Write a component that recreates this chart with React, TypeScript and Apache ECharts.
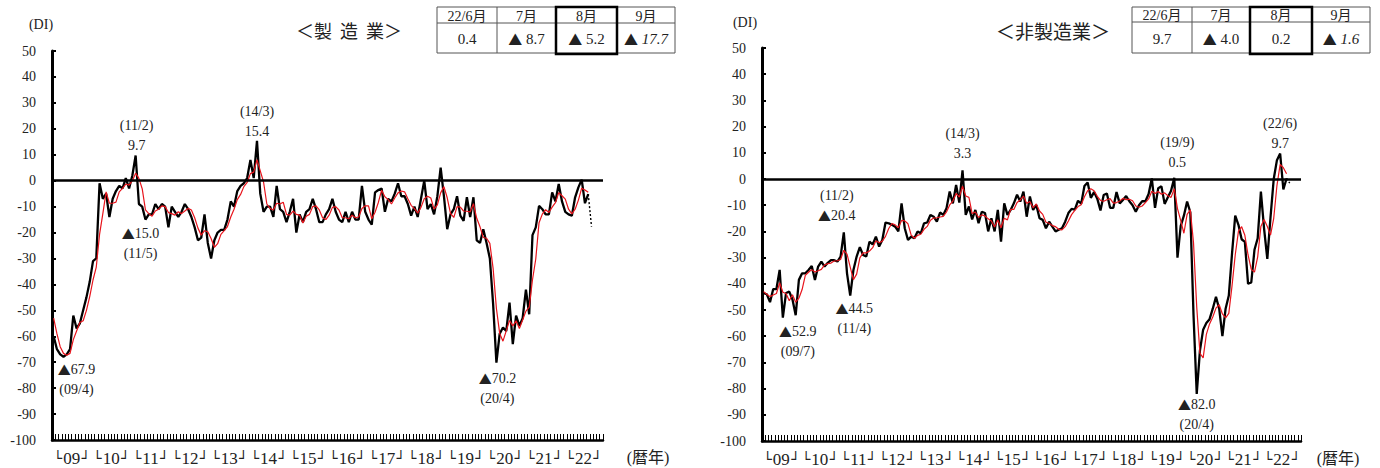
import React, { useEffect, useRef } from 'react';
import * as echarts from 'echarts';

// ---------- data ----------
const YEARS = ['09', '10', '11', '12', '13', '14', '15', '16', '17', '18', '19', '20', '21', '22'];
const CATEGORIES: string[] = YEARS.flatMap((y) => Array.from({ length: 12 }, (_, m) => `${y}/${m + 1}`));

// 製造業 DI (monthly, 2009/1 - 2022/8)
const MFG_DI = [
  -60, -65, -67, -67.9, -67, -65, -52, -57, -55, -50, -45, -39,
  -31, -30, -1, -7, -5, -14, -7, -4, -2, -3, 1, -3,
  2, 9.7, -9, -10, -15, -13, -13, -9, -11, -9, -10, -18,
  -10, -12, -14, -12, -9, -11, -14, -18, -23, -22, -13, -24,
  -30, -23, -20, -19, -19, -15, -8, -10, -4, -2, -1, 1,
  8, 1, 15.4, -5, -12, -10, -10, -14, -2, -11, -12, -16,
  -12, -7, -20, -13, -16, -12, -11, -7, -11, -16, -16, -13,
  -11, -7, -12, -15, -16, -12, -16, -12, -15, -15, -2, -12,
  -15, -17, -4.5, -3.6, -3, -12, -7, -8, -5, -1, -6, -6,
  -9, -13.5, -10, -14, -7, 0, -11, -9, -13, -6, 5, -6,
  -18.7, -13, -11, -6, -13.5, -15.5, -6.4, -14, -6.4, -23, -24, -18.7,
  -24, -30, -47.6, -70.2, -59, -56.6, -58, -47, -63, -52, -56, -53,
  -42, -51.5, -21, -18, -9.7, -11, -13, -13, -4.5, -8, -1.3, -8,
  -12, -13, -13.5, -6.4, -2.6, 0.4, -8.7, -5.2,
];
const MFG_FORECAST = -17.7; // 22/9
// 製造業 moving average (red)
const MFG_MA = [
  -53, -59, -64, -66.6, -67.3, -66.6, -61.3, -58, -54.7, -54, -50, -44.7,
  -38.3, -33.3, -20.7, -12.7, -4.3, -8.7, -8.7, -8.3, -4.3, -3, -1.3, -1.7,
  0, 2.9, 0.9, -3.1, -11.3, -12.7, -13.7, -11.7, -11, -9.7, -10, -12.3,
  -12.7, -13.3, -12, -12.7, -11.7, -10.7, -11.3, -14.3, -18.3, -21, -19.3, -19.7,
  -22.3, -25.7, -24.3, -20.7, -19.3, -17.7, -14, -11, -7.3, -5.3, -2.3, -0.7,
  2.7, 3.3, 8.1, 3.8, -0.5, -9, -10.7, -11.3, -8.7, -9, -8.3, -13,
  -13.3, -11.7, -13, -13.3, -16.3, -13.7, -13, -10, -9.7, -11.3, -14.3, -15,
  -13.3, -10.3, -10, -11.3, -14.3, -14.3, -14.7, -13.3, -14.3, -14, -10.7, -9.7,
  -9.7, -14.7, -12.2, -8.4, -3.7, -6.2, -7.3, -9, -6.7, -4.7, -4, -4.3,
  -7, -9.5, -10.8, -12.5, -10.3, -7, -6, -6.7, -11, -9.3, -4.7, -2.3,
  -6.6, -12.6, -14.2, -10, -10.2, -11.7, -11.8, -12, -8.9, -14.5, -17.8, -21.9,
  -22.2, -24.2, -33.9, -49.3, -58.9, -61.9, -57.9, -53.9, -56, -54, -57, -53.7,
  -50.3, -48.8, -38.2, -30.2, -16.2, -12.9, -11.2, -12.3, -10.2, -8.5, -4.6, -5.8,
  -7.1, -11, -12.8, -11, -7.5, -2.9, -3.6, -4.5,
];

// 非製造業 DI (monthly, 2009/1 - 2022/8)
const NONMFG_DI = [
  -43.6, -44, -47, -42, -42, -34.7, -52.9, -43.5, -43, -46, -52, -38.5,
  -36, -36, -34.7, -33.2, -38.5, -33.4, -31.5, -33.4, -32, -31, -31, -31.5,
  -29.6, -20.4, -36, -44.5, -34.7, -29.6, -26, -29, -29.6, -23.9, -25, -22,
  -25.8, -23.3, -16.6, -16.9, -17.5, -18.2, -20, -9.3, -18.8, -23.3, -22, -22.6,
  -20, -20.7, -16.9, -16.6, -13.7, -14.4, -16.3, -12.8, -13.7, -11.2, -4.8, -9.3,
  -2.3, -9, 3.3, -13.7, -10.5, -15.4, -11.8, -16.9, -12.5, -13, -20, -15,
  -20, -11.8, -23.9, -9.3, -13.7, -11.8, -9.3, -6, -8.6, -4.8, -14.4, -6.7,
  -11.8, -9.9, -15, -15.6, -18.8, -16.3, -18.2, -20, -19.4, -18.8, -16.3, -13,
  -11.4, -11.7, -8.3, -9.4, -2.7, -1.3, -7.2, -5, -7.5, -12, -6.1, -5.5,
  -11, -11, -5, -9.3, -8, -6.5, -8.5, -10, -12.5, -10, -8.5, -8.5,
  -5.7, 0.2, -11, -3.5, -2.8, -9.5, -7, -4.5, 0.5, -30, -18, -14,
  -8.6, -12.7, -52, -82, -65.5, -57.5, -55, -53.5, -49.5, -45, -49.5, -60,
  -49.5, -44.5, -28.5, -14, -17.5, -23, -24, -40, -39.5, -27, -22.6, -4.8,
  -19, -30.5, -14.6, 0, 7.2, 9.7, -4.0, 0.2,
];
const NONMFG_FORECAST = -1.6; // 22/9
const NONMFG_MA = [
  -43, -44, -44.9, -44.3, -43.7, -39.6, -43.2, -43.7, -46.5, -44.2, -47, -45.5,
  -42.2, -36.8, -35.6, -34.6, -35.5, -35, -34.5, -32.8, -32.3, -32.1, -31.3, -31.2,
  -30.7, -27.2, -28.7, -33.6, -38.4, -36.3, -30.1, -28.2, -28.2, -27.5, -26.2, -23.6,
  -24.3, -23.7, -21.9, -18.9, -17, -17.5, -18.6, -15.8, -16, -17.1, -21.4, -22.6,
  -21.5, -21.1, -19.2, -18.1, -15.7, -14.9, -14.8, -14.5, -14.3, -12.6, -9.9, -8.4,
  -5.5, -6.9, -2.7, -6.5, -7, -13.2, -12.6, -14.7, -13.7, -14.1, -15.2, -16,
  -18.3, -15.6, -18.6, -15, -15.6, -11.6, -11.6, -9, -8, -6.5, -9.3, -8.6,
  -11, -9.5, -12.2, -13.5, -16.5, -16.9, -17.8, -18.2, -19.2, -19.4, -18.2, -16,
  -13.6, -12, -10.5, -9.8, -6.8, -4.5, -3.7, -4.5, -6.6, -8.2, -8.5, -7.9,
  -7.5, -9.2, -9, -8.4, -7.4, -7.9, -7.7, -8.3, -10.3, -10.8, -10.3, -9,
  -7.6, -4.7, -5.5, -4.8, -5.8, -5.3, -6.4, -7, -3.7, -11.3, -15.8, -20.7,
  -13.5, -11.8, -24.4, -48.9, -66.5, -68.3, -59.3, -55.3, -52.7, -49.3, -48, -51.5,
  -53, -51.3, -40.8, -29, -20, -18.2, -21.5, -29, -34.5, -35.5, -29.7, -18.1,
  -15.5, -18.1, -21.4, -15, -2.5, 5.6, 4.3, 2,
];

// annotations: month index, text
const MFG_NOTES = [
  { i: 3, text: '▲67.9\n(09/4)', dx: 13, dy: 23 },
  { i: 25, text: '(11/2)\n9.7', dx: 1, dy: -20 },
  { i: 28, text: '▲15.0\n(11/5)', dx: -5, dy: 24 },
  { i: 62, text: '(14/3)\n15.4', dx: 0, dy: -19 },
  { i: 135, text: '▲70.2\n(20/4)', dx: 1, dy: 26 },
];
const NONMFG_NOTES = [
  { i: 6, text: '▲52.9\n(09/7)', dx: 15, dy: 24 },
  { i: 25, text: '(11/2)\n▲20.4', dx: -7, dy: -27 },
  { i: 27, text: '▲44.5\n(11/4)', dx: 4, dy: 23 },
  { i: 62, text: '(14/3)\n3.3', dx: 0, dy: -27 },
  { i: 128, text: '(19/9)\n0.5', dx: 3, dy: -25 },
  { i: 161, text: '(22/6)\n9.7', dx: 0, dy: -20 },
  { i: 135, text: '▲82.0\n(20/4)', dx: 0, dy: 21 },
];

const TABLE_HEAD = ['22/6月', '7月', '8月', '9月'];
const MFG_TABLE = ['0.4', '▲ 8.7', '▲ 5.2', '▲ 17.7'];
const NONMFG_TABLE = ['9.7', '▲ 4.0', '0.2', '▲ 1.6'];

// ---------- styling ----------
const SERIF = "'Liberation Serif', 'DejaVu Serif', 'Noto Sans CJK JP', serif";
const CJK = "'Noto Sans CJK JP', sans-serif";
const TXT = '#222';

const N = CATEGORIES.length;
const pad = (arr: number[]) => [...arr, ...Array(N - arr.length).fill(null)];
const forecast = (arr: number[], f: number) => {
  const out: (number | null)[] = Array(N).fill(null);
  out[arr.length - 1] = arr[arr.length - 1];
  out[arr.length] = f;
  return out;
};
const tri = (s: string) => s.replace(/▲/g, '{t|▲}');
const TRI_RICH = { t: { fontFamily: CJK, fontSize: 13, color: TXT, fill: TXT } };

function makeSeries(idx: number, di: number[], ma: number[], fc: number, notes: any[]) {
  return [
    {
      type: 'line',
      xAxisIndex: idx,
      yAxisIndex: idx,
      data: pad(di),
      symbol: 'none',
      lineStyle: { color: '#000', width: 2.3 },
      z: 3,
      markLine: {
        silent: true,
        symbol: 'none',
        label: { show: false },
        lineStyle: { color: '#000', width: 2.5, type: 'solid' },
        data: [{ yAxis: 0 }],
      },
      markPoint: {
        silent: true,
        symbol: 'circle',
        symbolSize: 0,
        itemStyle: { color: 'transparent' },
        label: {
          show: true,
          position: 'inside',
          color: TXT,
          fontFamily: SERIF,
          fontSize: 14,
          lineHeight: 20,
          align: 'center',
          rich: TRI_RICH,
        },
        data: notes.map((n) => ({
          coord: [CATEGORIES[n.i], di[n.i]],
          label: { formatter: tri(n.text), offset: [n.dx, n.dy] },
        })),
      },
    },
    {
      type: 'line',
      xAxisIndex: idx,
      yAxisIndex: idx,
      data: pad(ma),
      symbol: 'none',
      lineStyle: { color: '#e8141c', width: 1.2 },
      z: 4,
    },
    {
      type: 'line',
      xAxisIndex: idx,
      yAxisIndex: idx,
      data: forecast(di, fc),
      symbol: 'none',
      lineStyle: { color: '#000', width: 1.4, type: [2, 2] },
      z: 3,
    },
  ];
}

function xAxis(gridIndex: number) {
  return {
    type: 'category',
    gridIndex,
    data: CATEGORIES,
    boundaryGap: true,
    axisLine: { onZero: false, lineStyle: { color: '#000', width: 2.5 } },
    axisTick: { show: true, inside: true, length: 6, interval: 0, lineStyle: { color: '#000', width: 1 } },
    axisLabel: {
      interval: (index: number) => index % 12 === 6,
      formatter: (v: string) => `{b|└}{d|${v.split('/')[0]}}{b|┘}`,
      color: TXT,
      margin: 10,
      hideOverlap: false,
      padding: [0, 3, 0, 0],
      rich: {
        b: { fontFamily: "'DejaVu Sans Mono', 'DejaVu Sans', monospace", fontSize: 14, color: TXT, width: 9, align: 'center' },
        d: { fontFamily: SERIF, fontSize: 17, color: TXT, padding: [0, 1, 0, 1] },
      },
    },
    splitLine: { show: false },
  };
}

function yAxis(gridIndex: number) {
  return {
    type: 'value',
    gridIndex,
    min: -100,
    max: 50,
    interval: 10,
    axisLine: { show: true, lineStyle: { color: '#000', width: 3 } },
    axisTick: { show: true, inside: true, length: 4, lineStyle: { color: '#000', width: 2 } },
    axisLabel: { fontFamily: SERIF, fontSize: 14, color: TXT, margin: 16 },
    splitLine: { show: false },
  };
}

function table(xs: number[], y0: number, y1: number, y2: number, head: string[], vals: string[]) {
  const els: any[] = [];
  const thin = { stroke: '#555', lineWidth: 1 };
  els.push({ type: 'rect', shape: { x: xs[0], y: y0, width: xs[4] - xs[0], height: y2 - y0 }, style: { fill: 'transparent', ...thin } });
  els.push({ type: 'line', shape: { x1: xs[0], y1: y1, x2: xs[4], y2: y1 }, style: thin });
  for (let k = 1; k < 4; k++) {
    els.push({ type: 'line', shape: { x1: xs[k], y1: y0, x2: xs[k], y2: y2 }, style: thin });
  }
  els.push({
    type: 'rect',
    shape: { x: xs[2], y: y0, width: xs[3] - xs[2], height: y2 - y0 + 1 },
    style: { fill: 'transparent', stroke: '#000', lineWidth: 2.5 },
    z: 10,
  });
  for (let k = 0; k < 4; k++) {
    const cx = (xs[k] + xs[k + 1]) / 2;
    els.push({
      type: 'text',
      x: cx,
      y: (y0 + y1) / 2 + 1,
      style: { text: head[k], fontFamily: SERIF, fontSize: 14, fill: TXT, textAlign: 'center', textVerticalAlign: 'middle' },
    });
    const v = vals[k];
    const parts = v.split(' ');
    let text: string;
    if (parts.length > 1) {
      text = `{t|▲} ${k === 3 ? `{i|${parts[1]}}` : `{n|${parts[1]}}`}`;
    } else {
      text = k === 3 ? `{i|${v}}` : `{n|${v}}`;
    }
    els.push({
      type: 'text',
      x: cx,
      y: (y1 + y2) / 2 + 1,
      style: {
        text,
        fontFamily: SERIF,
        fontSize: 15,
        fill: TXT,
        textAlign: 'center',
        textVerticalAlign: 'middle',
        rich: {
          t: { fontFamily: CJK, fontSize: 14, fill: TXT },
          n: { fontFamily: SERIF, fontSize: 15, fill: TXT },
          i: { fontFamily: SERIF, fontSize: 15, fill: TXT, fontStyle: 'italic' },
        },
      },
    });
  }
  return els;
}

const text = (x: number, y: number, t: string, font: string, size: number) => ({
  type: 'text',
  x,
  y,
  style: { text: t, fontFamily: font, fontSize: size, fill: TXT, textAlign: 'center', textVerticalAlign: 'middle' },
});

export default function App() {
  const ref = useRef<HTMLDivElement>(null);
  useEffect(() => {
    if (!ref.current) return;
    const chart = echarts.init(ref.current, undefined, { renderer: 'svg' });
    chart.setOption({
      animation: false,
      backgroundColor: '#fff',
      grid: [
        { left: 52, top: 51, width: 551, height: 389 },
        { left: 762, top: 48, width: 539, height: 393 },
      ],
      xAxis: [xAxis(0), xAxis(1)],
      yAxis: [yAxis(0), yAxis(1)],
      series: [
        ...makeSeries(0, MFG_DI, MFG_MA, MFG_FORECAST, MFG_NOTES),
        ...makeSeries(1, NONMFG_DI, NONMFG_MA, NONMFG_FORECAST, NONMFG_NOTES),
      ],
      graphic: [
        text(41, 24, '(DI)', SERIF, 14),
        text(745, 22, '(DI)', SERIF, 14),
        text(349, 30, '＜製  造  業＞', CJK, 18),
        text(1053, 30, '＜非製造業＞', CJK, 19),
        text(648, 457, '(暦年)', SERIF, 16),
        text(1338, 458, '(暦年)', SERIF, 16),
        ...table([437, 497, 556, 617, 675], 7, 23, 53, TABLE_HEAD, MFG_TABLE),
        ...table([1132, 1192, 1250, 1312, 1370], 7, 22, 53, TABLE_HEAD, NONMFG_TABLE),
      ],
    });
    return () => chart.dispose();
  }, []);
  return (
    <div style={{ position: 'fixed', left: 0, top: 0, width: 1380, height: 468, background: '#fff' }}>
      <div ref={ref} style={{ width: 1380, height: 468 }} />
    </div>
  );
}
